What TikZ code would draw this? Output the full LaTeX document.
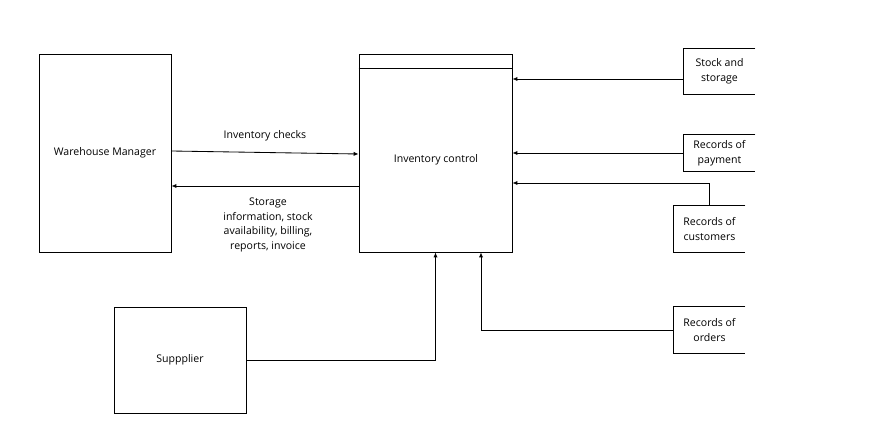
\documentclass[tikz,border=0pt]{standalone}
\usepackage{fontspec}
\setmainfont{Open Sans}
\usepackage{tikz}
\usetikzlibrary{positioning,arrows.meta}

\tikzset{
  entity/.style={draw,line width=0.6pt,minimum width=3.3cm,minimum height=4.95cm},
  store/.style={minimum width=1.775cm,align=center},
  flow/.style={line width=0.6pt,-{Latex[length=3.5pt,width=3pt]}}
}

\begin{document}
\begin{tikzpicture}[x=0.025cm,y=-0.025cm,font=\fontsize{7.5}{10.4}\selectfont]
  \useasboundingbox (0,0) rectangle (888,440);
  % external entities and process
  \node[entity] (wm) at (105,153) {Warehouse Manager};
  \node[entity,minimum width=3.825cm] (ic) at (435.5,153) {};
  \node (ictext) at (436,160) {Inventory control};
  \draw[line width=0.6pt] (ic.north west |- 0,68) -- (ic.north east |- 0,68);
  \node[entity,minimum height=2.65cm] (sup) at (180,360) {Suppplier};
  % data stores (open on the right)
  \node[store,minimum height=1.125cm] (stock) at (719.5,71.5) {Stock and\\storage};
  \node[store,minimum height=0.9cm] (pay) at (719.5,153) {Records of\\payment};
  \node[store,minimum height=1.15cm] (cust) at (709.5,229) {Records of\\customers};
  \node[store,minimum height=1.15cm] (ord) at (709.5,330) {Records of\\orders};
  \foreach \s in {stock,pay,cust,ord}
    \draw[line width=0.6pt] (\s.north east) -- (\s.north west) -- (\s.south west) -- (\s.south east);
  % flows
  \draw[flow] (wm.east |- 0,151) -- (ic.west |- 0,154);
  \node (chk) at (265,136) {Inventory checks};
  \draw[flow] (ic.west |- 0,186) -- (wm.east |- 0,186);
  \node[align=center] (info) at (268,225) {Storage\\information, stock\\availability, billing,\\reports, invoice};
  \draw[flow] (stock.west |- 0,79) -- (ic.east |- 0,79);
  \draw[flow] (pay.west) -- (ic.east |- pay.west);
  \draw[flow] (cust.north) |- (ic.east |- 0,183);
  \draw[flow] (ord.west) -| (ic.south -| 481,0);
  \draw[flow] (sup.east) -| (ic.south);
\end{tikzpicture}
\end{document}
